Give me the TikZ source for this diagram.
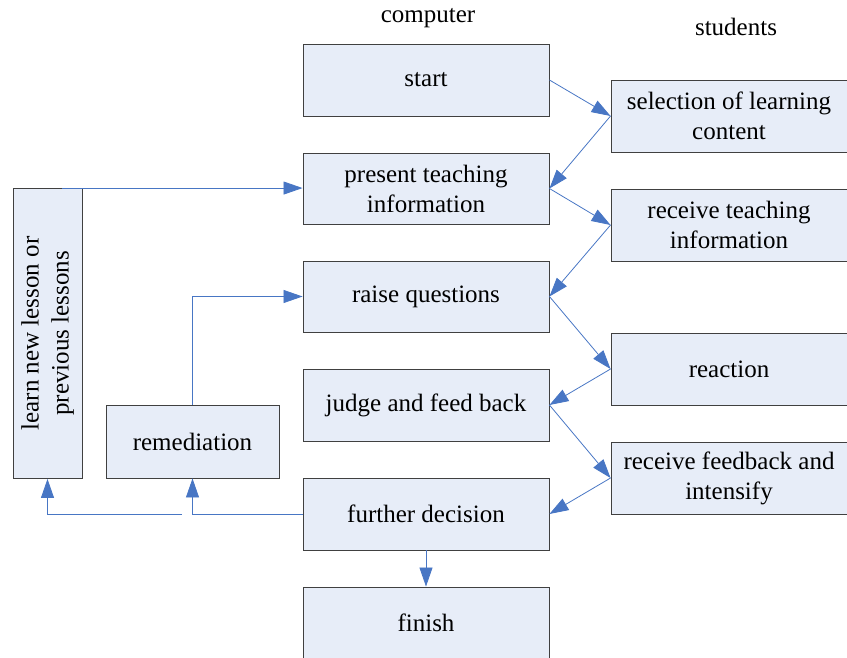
\documentclass[tikz,border=0pt]{standalone}
\usepackage{fontspec}
\setmainfont{Liberation Serif}
\definecolor{boxfill}{RGB}{231, 237, 248}
\definecolor{flowblue}{RGB}{72, 118, 196}
\usetikzlibrary{calc, arrows.meta}
\tikzset{
    every node/.style={font=\fontsize{25}{30}\selectfont},
    procbox/.style={draw=black!75, line width=0.9pt, fill=boxfill,
        minimum width=246pt, minimum height=72pt, inner sep=0pt, align=center},
    stubox/.style={procbox, minimum width=236pt},
    flow/.style={draw=flowblue, line width=0.8pt,
        -{Triangle[length=19pt, width=13pt]}},
}

\begin{document}
\begin{tikzpicture}[x=1pt, y=-1pt]
    \useasboundingbox (0, 0) rectangle (847, 658);
    % column titles
    \node (comptitle) at (428, 18) {computer};
    \node (stutitle) at (736, 27) {students};
    % computer column
    \node[procbox] (start) at (426, 80) {start};
    \node[procbox, minimum height=71pt] (present) at (426, 188.5)
        {present teaching\\information};
    \node[procbox, minimum height=71pt] (raise) at (426, 296.5) {raise questions};
    \node[procbox] (judge) at (426, 405) {judge and feed back};
    \node[procbox] (further) at (426, 514) {further decision};
    \node[procbox] (finish) at (426, 623) {finish};
    % students column
    \node[stubox] (selection) at (729, 116) {selection of learning\\content};
    \node[stubox] (receive) at (729, 225) {receive teaching\\information};
    \node[stubox] (reaction) at (729, 369) {reaction};
    \node[stubox] (feedback) at (729, 478) {receive feedback and\\intensify};
    % left side
    \node[procbox, rotate=90, minimum width=290pt, minimum height=69pt]
        (learn) at (47.5, 333.5) {learn new lesson or\\previous lessons};
    \node[procbox, minimum width=173pt, minimum height=73pt]
        (remediation) at (192.5, 441.5) {remediation};
    % zigzag between the columns
    \foreach \from/\to in {start/selection, present/receive,
            raise/reaction, judge/feedback}
        \draw[flow] (\from.east) -- (\to.west);
    \foreach \from/\to in {selection/present, receive/raise,
            reaction/judge, feedback/further}
        \draw[flow] (\from.west) -- (\to.east);
    \draw[flow] (further.south) -- (finish.north);
    % loops back
    \coordinate (learntop) at ($(learn.east)+(14.5, 0)$);
    \draw[flow] (learntop) -- (learntop -| present.west);
    \draw[flow] (remediation.north) |- (raise.west);
    \draw[flow] (further.west) -| (remediation.south);
    \coordinate (loopend) at (182, 514);
    \draw[flow] (loopend) -| (learn.west);
\end{tikzpicture}
\end{document}
